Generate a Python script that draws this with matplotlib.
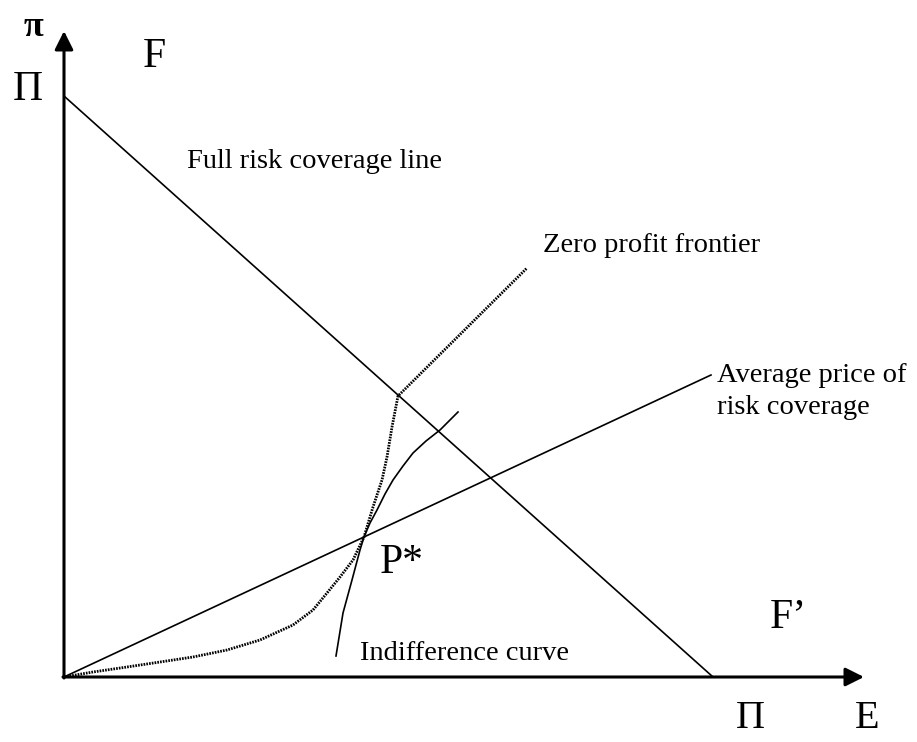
import matplotlib
matplotlib.use('Agg')
import matplotlib.pyplot as plt
import numpy as np

plt.rcParams['font.family'] = ['Liberation Serif', 'DejaVu Serif']

# coordinates: origin at the corner of the axes, units roughly pixels
PI = 581          # intercept of full risk line on the pi axis
PI_E = 649        # intercept on the E axis

full_x = [0, PI_E]
full_y = [PI, 0]

avg_x = [0, 647]
avg_y = [0, 302]

# zero profit frontier: convex part up to the kink, then straight
zp_x = [0, 29, 63, 96, 129, 163, 196, 229, 249, 263, 276, 289, 300,
        309, 318, 323, 328, 334, 463]
zp_y = [0, 5, 10, 15, 20, 27, 37, 52, 67, 84, 100, 117, 140,
        170, 197, 220, 250, 281, 409]

# indifference curve
ic_x = [272, 279, 288, 296, 300, 306, 313, 321, 329, 339, 349, 362, 376, 394]
ic_y = [21, 64, 97, 127, 140, 154, 167, 183, 197, 211, 224, 236, 247, 265]

fig = plt.figure(figsize=(9.17, 7.42), dpi=100)
ax = fig.add_axes([0, 0, 1, 1])
ax.set_xlim(-64, 853)
ax.set_ylim(-65, 677)
ax.axis('off')

# axes with arrows
ax.annotate('', xy=(800, 0), xytext=(-1, 0),
            arrowprops=dict(arrowstyle='-|>', lw=2.2, color='black',
                            mutation_scale=28, shrinkA=0, shrinkB=0))
ax.annotate('', xy=(0, 646), xytext=(0, -1),
            arrowprops=dict(arrowstyle='-|>', lw=2.2, color='black',
                            mutation_scale=28, shrinkA=0, shrinkB=0))

ax.plot(full_x, full_y, color='black', lw=1.2)
ax.plot(avg_x, avg_y, color='black', lw=1.2)
ax.plot(zp_x, zp_y, color='black', lw=2.0, linestyle=(0, (0.6, 0.4)),
        solid_joinstyle='round')
ax.plot(ic_x, ic_y, color='black', lw=1.2, solid_joinstyle='round')

big = 30
small = 20.5

def t(px, py, s, size, ha='left', **kw):
    ax.text(px - 64, 677 - py, s, fontsize=size, ha=ha, va='center', **kw)

t(33, 28, 'π', 26, ha='center', fontweight='bold')
t(143, 57, 'F', big)
t(13, 90, 'Π', big)
t(187, 162, 'Full risk coverage line', small)
t(543, 245, 'Zero profit frontier', small)
t(717, 375, 'Average price of', small)
t(717, 407, 'risk coverage', small)
t(380, 563, 'P*', big)
t(770, 618, 'F\u2019', big)
t(360, 654, 'Indifference curve', small)
t(736, 719, 'Π', 29)
t(855, 719, 'E', 29)

fig.savefig('out.png', dpi=100)
